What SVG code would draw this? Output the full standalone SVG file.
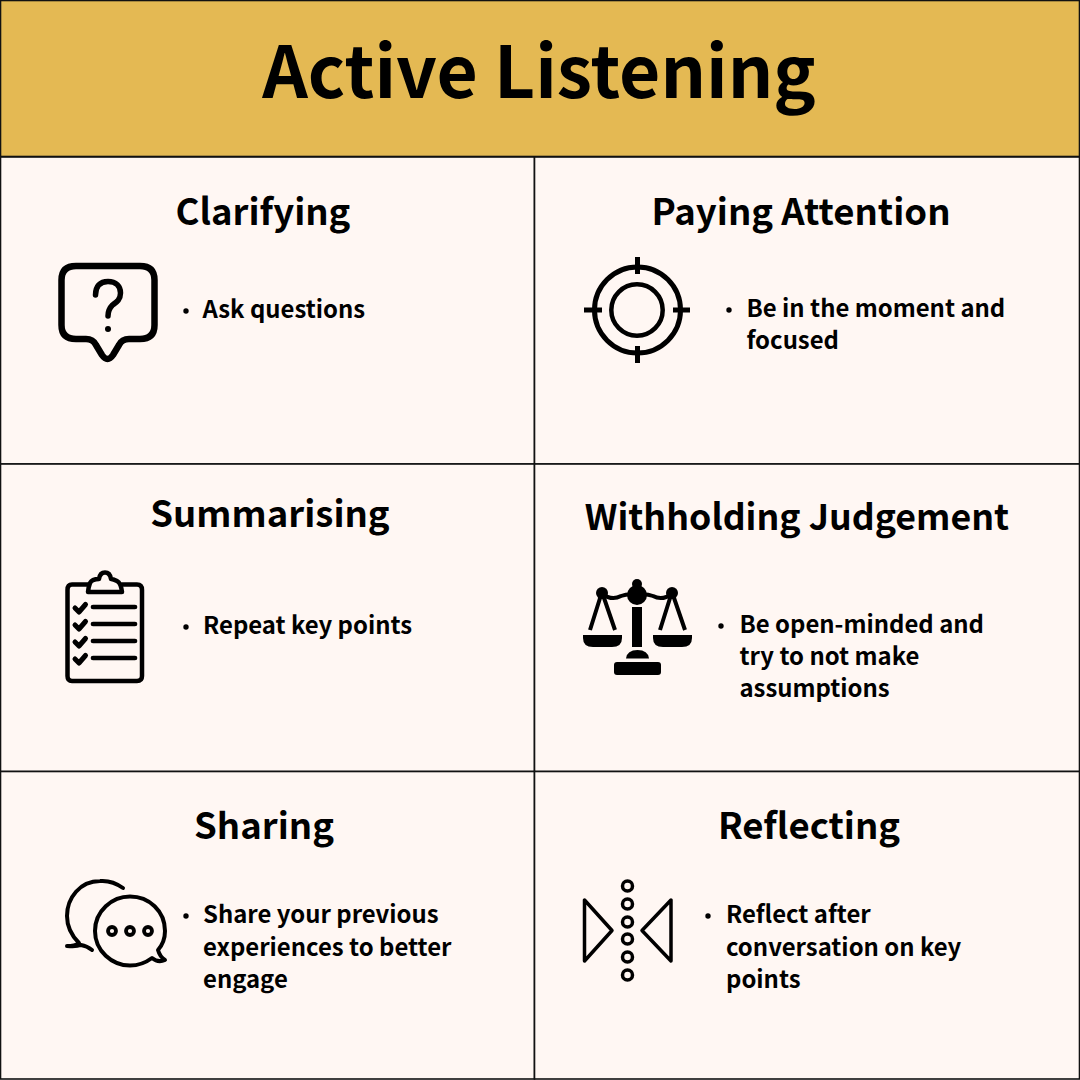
<svg xmlns="http://www.w3.org/2000/svg" width="1080" height="1080" viewBox="0 0 1080 1080">
<style>
.cell{fill:#fff7f3;stroke:#111;stroke-width:1.6}
text{font-family:"Noto Sans CJK SC","Noto Sans CJK JP","Noto Sans",sans-serif;font-weight:700;fill:#000}
.h{font-size:36.5px;text-anchor:middle}
.b{font-size:23.9px}
.i{fill:none;stroke:#000;stroke-linecap:round;stroke-linejoin:round}
.f{fill:#000;stroke:none}
</style>
<g id="header"><rect x="0.5" y="0.5" width="1079" height="156" fill="#e4b953" stroke="#111" stroke-width="1.6"/>
<text x="539" y="98" text-anchor="middle" style="font-size:71.2px">Active Listening</text></g>

<g id="clarifying"><rect class="cell" x="0.5" y="157" width="534" height="307"/>
<text class="h" x="263" y="225">Clarifying</text>
<path class="i" stroke-width="6.5" d="M76 266H140Q154.500 266 154.500 280V325Q154.500 339 140 339H129Q122 339 119 345L113 355Q107.500 363 102 355L96 345Q93 339 86 339H76Q61.500 339 61.500 325V280Q61.500 266 76 266Z"/>
<path class="i" stroke-width="5.500" d="M95.500 295C95.500 286 100 281.500 108 281.500C116 281.500 120.500 286.500 120.500 293C120.500 300 116 302.500 112.500 305C109.500 308 108 311 108 316"/>
<circle class="f" cx="108" cy="329" r="3"/>
<circle class="f" cx="186" cy="311" r="2.700"/>
<text class="b" x="202.500" y="318">Ask questions</text></g>

<g id="paying-attention"><rect class="cell" x="534.5" y="157" width="545" height="307"/>
<text class="h" x="801" y="225">Paying Attention</text>
<circle class="i" cx="637.500" cy="310" r="43" stroke-width="5"/>
<circle class="i" cx="637" cy="310" r="25.700" stroke-width="4.500"/>
<path class="i" stroke-width="5" style="stroke-linecap:butt" d="M637.500 257V274M637.500 346V363M584 310H602M673 310H690"/>
<circle class="f" cx="729" cy="310" r="2.700"/>
<text class="b" x="746.500" y="317">Be in the moment and</text>
<text class="b" x="746.500" y="349">focused</text></g>

<g id="summarising"><rect class="cell" x="0.5" y="464" width="534" height="307.5"/>
<text class="h" x="270" y="527">Summarising</text>
<path class="i" stroke-width="4.500" d="M88 584.500H72Q67.500 584.500 67.500 590V676Q67.500 681 72 681H137Q142 681 142 676V590Q142 584.500 137 584.500H122"/>
<path class="i" stroke-width="4.500" d="M88 592H122Q121 583 117 581Q113 579 111 579Q110 572.500 105 572.500Q100 572.500 99 579Q92 579 90 583Q88.500 587 88 592Z"/>
<path class="i" stroke-width="4.700" d="M93 607H135M93 624H135M93 641H135M93 658H135"/>
<path class="i" stroke-width="5" d="M75 608L79 612L85.500 604.500M75 625L79 629L85.500 621.500M75 642L79 646L85.500 638.500M75 659L79 663L85.500 655.500"/>
<circle class="f" cx="186" cy="627" r="2.700"/>
<text class="b" x="203" y="634">Repeat key points</text></g>

<g id="withholding-judgement"><rect class="cell" x="534.5" y="464" width="545" height="307.5"/>
<text class="h" x="797" y="530" style="font-size:35.700px">Withholding Judgement</text>
<circle class="f" cx="637" cy="584" r="5"/>
<circle class="f" cx="637" cy="595" r="10"/>
<circle class="f" cx="602" cy="593" r="6"/>
<circle class="f" cx="672" cy="593" r="6"/>
<path class="i" stroke-width="4" d="M602 594Q612 601 621 596Q629 593 637 595Q645 593 653 596Q662 601 672 594"/>
<path class="i" stroke-width="4" style="stroke-linecap:butt" d="M601 595L590 630M603 595L615 630M671 595L660 630M673 595L685 630"/>
<path class="f" d="M583 635H622V638Q622 647 612 647H593Q583 647 583 638ZM653 635H692V638Q692 647 682 647H663Q653 647 653 638Z"/>
<rect class="f" x="632" y="607" width="10" height="40"/>
<path class="f" d="M626 658.500Q627 650 637.500 650Q648 650 649 658.500Z"/>
<rect class="f" x="614" y="662" width="47" height="13" rx="3"/>
<circle class="f" cx="721" cy="626" r="2.700"/>
<text class="b" x="739.500" y="633">Be open-minded and</text>
<text class="b" x="739.500" y="665">try to not make</text>
<text class="b" x="739.500" y="697">assumptions</text></g>

<g id="sharing"><rect class="cell" x="0.5" y="771.5" width="534" height="307.5"/>
<text class="h" x="264" y="839">Sharing</text>
<path class="i" stroke-width="4" d="M123 888Q112 880 100 881C80 881 67 898 67 916C67 928 72 936 79 943Q75 946 67 946Q76 947 81 945Q87 946 92 950"/>
<path class="i" stroke-width="4" d="M130 896.500C112 896.500 95 911 95 931C95 951 112 965.500 130 965.500Q142 965.500 152 958Q158 963 165 960Q160 957 158 950Q165 942 165 931C165 911 149 896.500 130 896.500Z"/>
<circle class="i" cx="112" cy="931" r="4" stroke-width="3.800"/>
<circle class="i" cx="130" cy="931" r="4" stroke-width="3.800"/>
<circle class="i" cx="148" cy="931" r="4" stroke-width="3.800"/>
<circle class="f" cx="186" cy="916" r="2.700"/>
<text class="b" x="203" y="923">Share your previous</text>
<text class="b" x="203" y="956">experiences to better</text>
<text class="b" x="203" y="988">engage</text></g>

<g id="reflecting"><rect class="cell" x="534.5" y="771.5" width="545" height="307.5"/>
<text class="h" x="809" y="839">Reflecting</text>
<path class="i" stroke-width="3.500" d="M584.500 900V961L612 930.500ZM671 900V961L642 930.500Z"/>
<g class="i" stroke-width="3.500"><circle cx="627.500" cy="886" r="5"/><circle cx="627.500" cy="904" r="5"/><circle cx="627.500" cy="922" r="5"/><circle cx="627.500" cy="939" r="5"/><circle cx="627.500" cy="957" r="5"/><circle cx="627.500" cy="975" r="5"/></g>
<circle class="f" cx="708" cy="916" r="2.700"/>
<text class="b" x="726" y="923">Reflect after</text>
<text class="b" x="726" y="956">conversation on key</text>
<text class="b" x="726" y="988">points</text></g>
</svg>
